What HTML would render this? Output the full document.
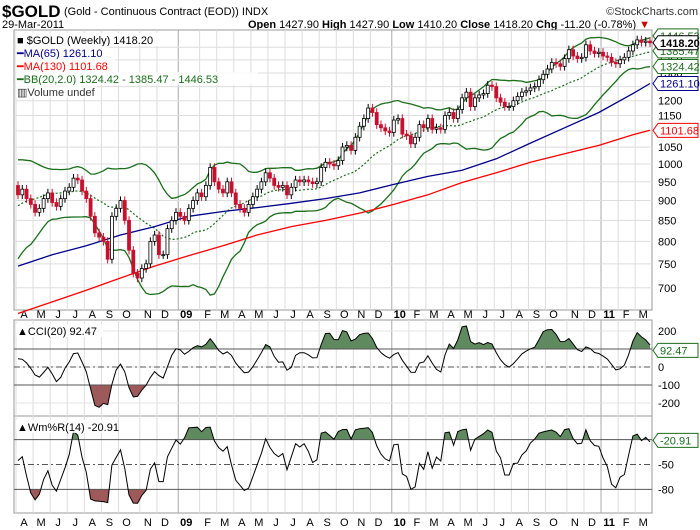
<!DOCTYPE html>
<html><head><meta charset="utf-8"><style>
body{margin:0;background:#fff;font-family:"Liberation Sans",sans-serif;}
svg{display:block}
</style></head><body>
<svg id="c" width="700" height="530" xmlns="http://www.w3.org/2000/svg" font-family="Liberation Sans, sans-serif">
<text x="2" y="17" font-size="17" font-weight="bold">$GOLD</text>
<text x="64" y="15" font-size="11">(Gold - Continuous Contract (EOD)) INDX</text>
<text x="698" y="15" font-size="11" text-anchor="end" fill="#333">©StockCharts.com</text>
<text x="2" y="28" font-size="11">29-Mar-2011</text>
<text x="248" y="28" font-size="11"><tspan font-weight="bold">Open</tspan> 1427.90 <tspan font-weight="bold">High</tspan> 1427.90 <tspan font-weight="bold">Low</tspan> 1410.20 <tspan font-weight="bold">Close</tspan> 1418.20 <tspan font-weight="bold">Chg</tspan> -11.20 (-0.78%) <tspan fill="#c00">▼</tspan></text>
<g id="g"></g>
</svg>
<script>
const monthLabels=["A","M","J","J","A","S","O","N","D","09","F","M","A","M","J","J","A","S","O","N","D","10","F","M","A","M","J","J","A","S","O","N","D","11","F","M"];
const monthWeeks=[4,4,4,4,4,4,5,4,5,5,4,4,4,4,4,4,4,4,4,4,5,4,4,4,4,4,4,4,4,4,5,4,4,4,4,4];
const priorCloses=[800,790,810,830,800,805,820,835,860,880,885,905,920,910,930,960,975,990,970,940];
const closes=[915,930,905,890,870,880,905,920,895,885,905,925,935,960,955,925,905,860,820,810,800,760,860,880,900,850,780,730,720,740,750,800,815,770,770,830,850,870,860,850,880,900,920,910,940,990,950,930,920,950,920,890,880,870,890,910,930,950,975,960,940,935,940,915,935,955,950,955,950,945,950,990,1005,1000,995,1010,1050,1055,1040,1080,1115,1140,1175,1160,1120,1110,1100,1095,1135,1140,1090,1085,1060,1080,1120,1110,1140,1105,1110,1105,1150,1160,1140,1170,1210,1230,1180,1210,1220,1225,1255,1250,1210,1195,1180,1180,1200,1215,1230,1235,1245,1250,1275,1295,1315,1340,1335,1325,1355,1390,1365,1355,1360,1410,1385,1375,1380,1365,1360,1340,1335,1350,1360,1385,1410,1430,1420,1425,1418];
const maIdx=[0,8,16,24,32,40,48,56,64,72,80,88,96,104,112,120,128,136,144,148];
const ma65=[745,770,790,815,835,860,872,882,893,905,920,943,965,982,1015,1062,1110,1160,1225,1261];
const ma130=[650,672,695,720,745,768,790,815,835,850,868,890,915,948,975,1005,1030,1055,1088,1102];
const priceTicks=[700,750,800,850,900,950,1000,1050,1100,1150,1200,1250,1300,1350,1400];
const cciTicks=[200,0,-100,-200];
const wmTicks=[-50,-80];

const NS="http://www.w3.org/2000/svg",G=document.getElementById('g');
function el(t,a,p){const e=document.createElementNS(NS,t);for(const k in a)e.setAttribute(k,a[k]);(p||G).appendChild(e);return e;}
const L=14,R=652,n=closes.length;
const X=i=>18+i*(632/(n-1));
const PY=p=>164-347*Math.log(p/1000);
const CY=v=>367-0.18*v;
const WY=v=>423+0.83*(-v);
const panels=[[30,310],[320,416],[416,513]];
let p=el('rect',{x:L,y:30,width:R-L,height:280,fill:'none',stroke:'#999'});

p=el('rect',{x:L,y:320,width:R-L,height:193,fill:'none',stroke:'#999'});

el('line',{x1:L,x2:R,y1:416,y2:416,stroke:'#999'});
let idx=0;
monthLabels.forEach((m,k)=>{
 const x=X(idx)-2;
 const yr=/\d/.test(m);
 for(const [a,b] of panels){const gl=el('line',{x1:x,x2:x,y1:a,y2:b,stroke:yr?'#aaa':'#ddd'});
 }
 for(const yy of [318,526]){const t=el('text',{x:x+8,y:yy,'font-size':11,'text-anchor':'middle','font-weight':yr?'bold':'normal'});t.textContent=m;
 }
 idx+=monthWeeks[k];
});
priceTicks.forEach(v=>{const y=PY(v);if(y<31)return;
 const gl=el('line',{x1:L,x2:R,y1:y,y2:y,stroke:'#ddd'});
 const t=el('text',{x:658,y:y+4,'font-size':11});t.textContent=v;});
[200,100,0,-100,-200].forEach(v=>{el('line',{x1:L,x2:R,y1:CY(v),y2:CY(v),stroke:'#e4e4e4'});});
const all=priorCloses.concat(closes),P=priorCloses.length;
const mid=[],up=[],lo=[];
for(let i=0;i<n;i++){const w=all.slice(i+P-19,i+P+1);const m=w.reduce((a,b)=>a+b)/20;const sd=Math.sqrt(w.reduce((a,b)=>a+(b-m)*(b-m),0)/20);mid.push(m);up.push(m+2*sd);lo.push(m-2*sd);}
const pl=(arr,yf,ix)=>arr.map((v,i)=>X(ix?ix[i]:i).toFixed(1)+','+yf(v).toFixed(1)).join(' ');
let e=el('polyline',{points:pl(up,PY),fill:'none',stroke:'#1a6e1a','stroke-width':1.3});
e=el('polyline',{points:pl(lo,PY),fill:'none',stroke:'#1a6e1a','stroke-width':1.3});
e=el('polyline',{points:pl(mid,PY),fill:'none',stroke:'#1a6e1a','stroke-width':1.2,'stroke-dasharray':'2,2'});
e=el('polyline',{points:pl(ma65,PY,maIdx),fill:'none',stroke:'#00008b','stroke-width':1.3});
e=el('polyline',{points:pl(ma130,PY,maIdx),fill:'none',stroke:'#f00','stroke-width':1.3});
for(let i=0;i<n;i++){const o=all[i+P-1],c=closes[i];const h=Math.max(o,c)*1.012,l=Math.min(o,c)*0.988;
 const x=X(i),dn=c<o;
 const w=el('line',{x1:x,x2:x,y1:PY(h),y2:PY(l),stroke:dn?'#c8102e':'#000'});
 
 const yt=PY(Math.max(o,c)),yb=PY(Math.min(o,c));
 const b=el('rect',{x:x-1.5,y:yt,width:3,height:Math.max(1,yb-yt),fill:dn?'#c8102e':'#fff',stroke:dn?'#c8102e':'#000','stroke-width':0.8});
 }
const cci=[],wm=[];
for(let i=0;i<n;i++){
 const tp=k=>{const c=all[k],o=all[k-1];return (Math.max(o,c)*1.012+Math.min(o,c)*0.988+c)/3;};
 const w=[];for(let k=i+P-19;k<=i+P;k++)w.push(tp(k));
 const m=w.reduce((a,b)=>a+b)/20,md=w.reduce((a,b)=>a+Math.abs(b-m),0)/20;
 cci.push(Math.max(-240,Math.min(240,(w[19]-m)/(0.015*md))));
 let H=-1e9,Lo=1e9;for(let k=i+P-13;k<=i+P;k++){const c=all[k],o=all[k-1];H=Math.max(H,Math.max(o,c)*1.012);Lo=Math.min(Lo,Math.min(o,c)*0.988);}
 wm.push(-100*(H-all[i+P])/(H-Lo));}
const defs=el('defs',{});
function clip(id,y1,y2){const c=el('clipPath',{id},defs);el('rect',{x:0,y:y1,width:700,height:y2-y1},c);}
clip('cu',0,CY(100));clip('cd',CY(-100),530);clip('wu',0,WY(-20));clip('wd',WY(-80),530);
function area(vals,yf,th,cid,col,name){const pts=X(0)+','+yf(th)+' '+pl(vals,yf)+' '+X(n-1)+','+yf(th);
 const a=el('polygon',{points:pts,fill:col,'clip-path':'url(#'+cid+')'});}
area(cci,CY,100,'cu','#5f8a5f','cci-overbought-fill');area(cci,CY,-100,'cd','#9e5a5a','cci-oversold-fill');
area(wm,WY,-20,'wu','#5f8a5f','wm-overbought-fill');area(wm,WY,-80,'wd','#9e5a5a','wm-oversold-fill');
[[CY(100),''],[CY(-100),''],[CY(0),'6,3,2,3'],[WY(-20),''],[WY(-80),''],[WY(-50),'6,3,2,3']].forEach(([y,d])=>{el('line',{x1:L,x2:R,y1:y,y2:y,stroke:'#555','stroke-dasharray':d});});
e=el('polyline',{points:pl(cci,CY),fill:'none',stroke:'#000'});
e=el('polyline',{points:pl(wm,WY),fill:'none',stroke:'#000'});
cciTicks.forEach(v=>{const t=el('text',{x:658,y:CY(v)+4,'font-size':11});t.textContent=v;});
wmTicks.forEach(v=>{const t=el('text',{x:658,y:WY(v)+4,'font-size':11});t.textContent=v;});
function tag(y,txt,col,bold,name){const g=el('g',{});
 el('polygon',{points:`653,${y} 658,${y-7} 698,${y-7} 698,${y+7} 658,${y+7}`,fill:'#fff',stroke:col},g);
 const t=el('text',{x:660,y:y+4,'font-size':11,fill:bold?'#000':col,'font-weight':bold?'bold':'normal'},g);t.textContent=txt;}
tag(PY(1446.53),'1446.53','#1a6e1a',0,'bb-upper-tag');tag(PY(1385.47),'1385.47','#1a6e1a',0,'bb-middle-tag');
tag(PY(1324.42),'1324.42','#1a6e1a',0,'bb-lower-tag');tag(PY(1261.10),'1261.10','#00008b',0,'ma65-tag');
tag(PY(1101.68),'1101.68','#f00',0,'ma130-tag');tag(PY(1418.2),'1418.20','#000',1,'close-tag');
tag(CY(92.47),'92.47','#1a6e1a',0,'cci-tag');tag(WY(-20.91),'-20.91','#1a6e1a',0,'wm-tag');
const leg=[[44,'■ $GOLD (Weekly) 1418.20','#000','legend-price'],[57,'━MA(65) 1261.10','#00008b','legend-ma65'],[70,'━MA(130) 1101.68','#f00','legend-ma130'],[83,'━BB(20,2.0) 1324.42 - 1385.47 - 1446.53','#1a6e1a','legend-bb'],[96,'▥Volume undef','#333','legend-volume'],[335,'▲CCI(20) 92.47','#000','legend-cci'],[431,'▲Wm%R(14) -20.91','#000','legend-wm']];
leg.forEach(([y,t,c,nm])=>{el('rect',{x:16,y:y-11,width:t.length*6.2,height:13,fill:'#fff','fill-opacity':0.85});
 const tx=el('text',{x:17,y,'font-size':11,fill:c});tx.textContent=t;});
</script>
</body></html>
